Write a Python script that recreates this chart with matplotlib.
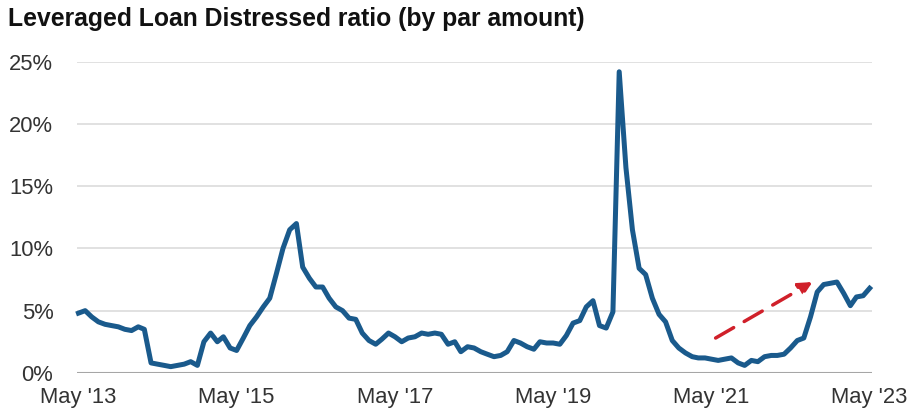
import pandas as pd
import matplotlib.pyplot as plt
import matplotlib.dates as mdates
from matplotlib.ticker import FuncFormatter

plt.rcParams["font.family"] = ["Liberation Sans", "DejaVu Sans"]

# Data: monthly distressed ratio (%), May 2013 - May 2023
start_month = "2013-05-01"
distressed_pct = [
    4.8, 5.0, 4.5, 4.1, 3.9, 3.8, 3.7, 3.5, 3.4, 3.7,
    3.5, 0.8, 0.7, 0.6, 0.5, 0.6, 0.7, 0.9, 0.6, 2.5,
    3.2, 2.5, 2.9, 2.0, 1.8, 2.8, 3.8, 4.5, 5.3, 6.0,
    8.0, 10.0, 11.5, 12.0, 8.5, 7.6, 6.9, 6.9, 6.0, 5.3,
    5.0, 4.4, 4.3, 3.2, 2.6, 2.3, 2.7, 3.2, 2.9, 2.5,
    2.8, 2.9, 3.2, 3.1, 3.2, 3.1, 2.3, 2.5, 1.7, 2.1,
    2.0, 1.7, 1.5, 1.3, 1.4, 1.7, 2.6, 2.4, 2.1, 1.9,
    2.5, 2.4, 2.4, 2.3, 3.0, 4.0, 4.2, 5.3, 5.8, 3.8,
    3.6, 4.9, 24.2, 16.5, 11.5, 8.4, 7.9, 6.0, 4.7, 4.1,
    2.6, 2.0, 1.6, 1.3, 1.2, 1.2, 1.1, 1.0, 1.1, 1.2,
    0.8, 0.6, 1.0, 0.9, 1.3, 1.4, 1.4, 1.5, 2.0, 2.6,
    2.8, 4.5, 6.5, 7.1, 7.2, 7.3, 6.4, 5.4, 6.1, 6.2,
    6.8,
]
dates = pd.date_range(start_month, periods=len(distressed_pct), freq="MS")
series = pd.Series(distressed_pct, index=dates)

tick_dates = pd.to_datetime(["2013-05-01", "2015-05-01", "2017-05-01",
                             "2019-05-01", "2021-05-01", "2023-05-01"])
y_ticks = [0, 5, 10, 15, 20, 25]

# trend arrow (start / end in data coords)
arrow_start = (pd.Timestamp("2021-05-20"), 2.8)
arrow_end = (pd.Timestamp("2022-08-10"), 7.3)

fig = plt.figure(figsize=(9.16, 4.12), dpi=100)
ax = fig.add_axes([0.084, 0.095, 0.868, 0.755])

ax.plot(series.index, series.values, color="#1a5a8c", linewidth=3.6,
        solid_joinstyle="round", clip_on=False, zorder=3)

# red dashed arrow
ax.annotate("", xy=arrow_end, xytext=arrow_start,
            arrowprops=dict(arrowstyle="-|>,head_length=0.8,head_width=0.4",
                            color="#d0202a", lw=2.5, linestyle=(0, (6, 3.5)),
                            shrinkA=0, shrinkB=0), zorder=4)

ax.set_ylim(0, 25)
ax.set_xlim(pd.Timestamp("2013-04-24"), pd.Timestamp("2023-05-12"))
ax.set_yticks(y_ticks)
ax.yaxis.set_major_formatter(FuncFormatter(lambda v, p: f"{v:.0f}%"))
ax.set_xticks(tick_dates)
ax.xaxis.set_major_formatter(mdates.DateFormatter("%b '%y"))

ax.grid(axis="y", color="#dcdcdc", linewidth=1.2)
ax.axhline(0, color="#a6a6a6", linewidth=1.5, zorder=2)
for side in ["top", "right", "left", "bottom"]:
    ax.spines[side].set_visible(False)
ax.tick_params(axis="both", length=0, labelsize=15.8, colors="#333333")
ax.tick_params(axis="y", pad=17)
ax.tick_params(axis="x", pad=10)

fig.text(0.009, 0.955, "Leveraged Loan Distressed ratio (by par amount)",
         fontsize=17.8, fontweight="bold", color="#111111", va="center")

fig.savefig("out.png", dpi=100)
